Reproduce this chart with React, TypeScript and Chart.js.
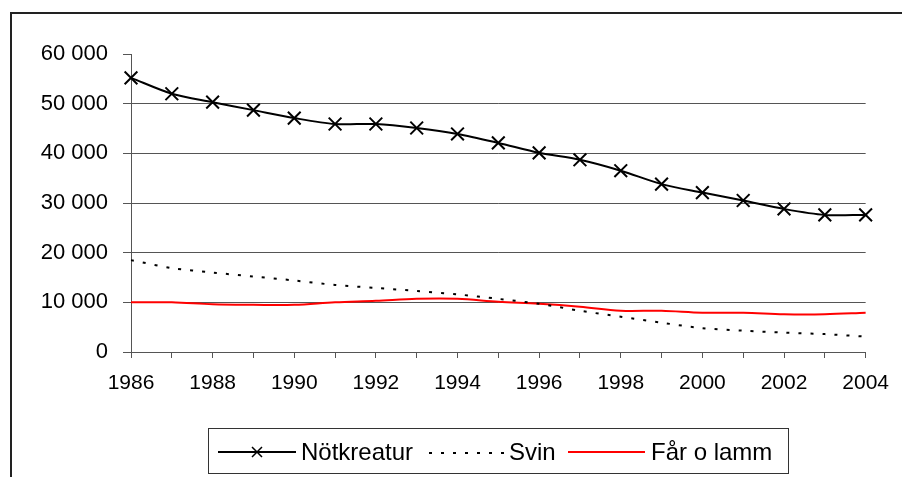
import React, { useEffect, useRef } from "react";
import { Chart, registerables } from "chart.js";

Chart.register(...registerables);

const years = ["1986", "1987", "1988", "1989", "1990", "1991", "1992", "1993", "1994", "1995", "1996", "1997", "1998", "1999", "2000", "2001", "2002", "2003", "2004"];
const notkreatur = [55200, 52000, 50300, 48700, 47100, 45900, 45900, 45100, 43900, 42100, 40100, 38700, 36500, 33800, 32100, 30500, 28800, 27600, 27600];
const svin = [18500, 16900, 16000, 15200, 14400, 13500, 12900, 12300, 11600, 10700, 9700, 8300, 7100, 5900, 4800, 4300, 3900, 3600, 3100];
const farOLamm = [10000, 10000, 9600, 9500, 9500, 10000, 10300, 10700, 10700, 10100, 9700, 9100, 8300, 8300, 7900, 7900, 7600, 7600, 7900];
const seriesNames = ["Nötkreatur", "Svin", "Får o lamm"];
const yMax = 60000;
const yStep = 10000;

const FONT = "'Liberation Sans', Arial, sans-serif";

const fmt = (v: number) => {
  const s = String(Math.round(v));
  return s.replace(/\B(?=(\d{3})+(?!\d))/g, " ");
};

const framePlugin = {
  id: "frameLegend",
  beforeDraw(chart: any) {
    const ctx = chart.ctx;
    ctx.save();
    ctx.fillStyle = "#ffffff";
    ctx.fillRect(0, 0, chart.width, chart.height);
    ctx.restore();
  },
  afterDraw(chart: any) {
    const ctx = chart.ctx;
    ctx.save();
    // outer frame (cropped on right and bottom)
    ctx.strokeStyle = "#222";
    ctx.lineWidth = 2;
    ctx.beginPath();
    ctx.moveTo(11, chart.height + 2);
    ctx.lineTo(11, 13);
    ctx.lineTo(chart.width + 2, 13);
    ctx.stroke();

    // legend box
    ctx.strokeStyle = "#333";
    ctx.lineWidth = 1;
    ctx.strokeRect(208.5, 428.5, 580, 45);

    const cy = 452;
    const ds = chart.data.datasets;
    ctx.font = "24px " + FONT;
    ctx.textBaseline = "middle";
    ctx.fillStyle = "#000";

    // item 1: line with X marker
    ctx.strokeStyle = "#000";
    ctx.lineWidth = 2;
    ctx.beginPath();
    ctx.moveTo(218, cy);
    ctx.lineTo(296, cy);
    ctx.stroke();
    ctx.lineWidth = 1.5;
    ctx.beginPath();
    const r = 5;
    ctx.moveTo(257 - r, cy - r);
    ctx.lineTo(257 + r, cy + r);
    ctx.moveTo(257 - r, cy + r);
    ctx.lineTo(257 + r, cy - r);
    ctx.stroke();
    ctx.fillText(ds[0].label, 301, cy + 1);

    // item 2: dotted
    ctx.lineWidth = 2;
    ctx.setLineDash([3, 9]);
    ctx.beginPath();
    ctx.moveTo(429, cy + 1);
    ctx.lineTo(504, cy + 1);
    ctx.stroke();
    ctx.setLineDash([]);
    ctx.fillText(ds[1].label, 509, cy + 1);

    // item 3: red
    ctx.strokeStyle = "#ff0000";
    ctx.lineWidth = 2;
    ctx.beginPath();
    ctx.moveTo(568, cy);
    ctx.lineTo(645, cy);
    ctx.stroke();
    ctx.fillText(ds[2].label, 651, cy + 1);
    ctx.restore();
  },
};

export default function App() {
  const ref = useRef<HTMLCanvasElement | null>(null);
  useEffect(() => {
    if (!ref.current) return;
    const chart = new Chart(ref.current, {
      type: "line",
      data: {
        labels: years,
        datasets: [
          {
            label: seriesNames[0],
            data: notkreatur,
            borderColor: "#000",
            borderWidth: 2,
            tension: 0.3,
            pointStyle: "crossRot",
            pointRadius: 9,
            pointBorderWidth: 2,
            pointBorderColor: "#000",
            pointBackgroundColor: "#000",
          },
          {
            label: seriesNames[1],
            data: svin,
            borderColor: "#000",
            borderWidth: 2,
            borderDash: [3, 9],
            tension: 0.3,
            pointRadius: 0,
          },
          {
            label: seriesNames[2],
            data: farOLamm,
            borderColor: "#ff0000",
            borderWidth: 2,
            tension: 0.35,
            pointRadius: 0,
          },
        ],
      },
      options: {
        animation: false,
        responsive: false,
        maintainAspectRatio: false,
        layout: { padding: { left: 0, top: 54, right: 35, bottom: 85 } },
        plugins: { legend: { display: false }, tooltip: { enabled: false } },
        scales: {
          x: {
            type: "category",
            offset: false,
            afterFit: (s: any) => { s.height = 40; },
            border: { display: true, color: "#555", width: 1 },
            grid: { drawOnChartArea: false, drawTicks: true, tickLength: 6, color: "#555", tickColor: "#555" },
            ticks: {
              autoSkip: false,
              maxRotation: 0,
              padding: 13,
              color: "#000",
              font: { family: FONT, size: 21 },
              callback: (_v: any, i: number) => (i % 2 === 0 ? years[i] : ""),
            },
          },
          y: {
            min: 0,
            max: yMax,
            afterFit: (s: any) => { s.width = 131; },
            border: { display: true, color: "#555", width: 1 },
            grid: {
              drawOnChartArea: true,
              tickLength: 8,
              color: (c: any) => (c.tick && c.tick.value === yMax ? "rgba(0,0,0,0)" : "#555"),
              tickColor: "#555",
            },
            ticks: {
              stepSize: yStep,
              padding: 15,
              color: "#000",
              font: { family: FONT, size: 22 },
              callback: (v: any) => fmt(Number(v)),
            },
          },
        },
      },
      plugins: [framePlugin],
    });
    return () => chart.destroy();
  }, []);
  return (
    <div style={{ position: "fixed", left: 0, top: 0, width: 902, height: 477, background: "#fff" }}>
      <canvas ref={ref} width={902} height={477} style={{ display: "block", width: 902, height: 477 }} />
    </div>
  );
}
